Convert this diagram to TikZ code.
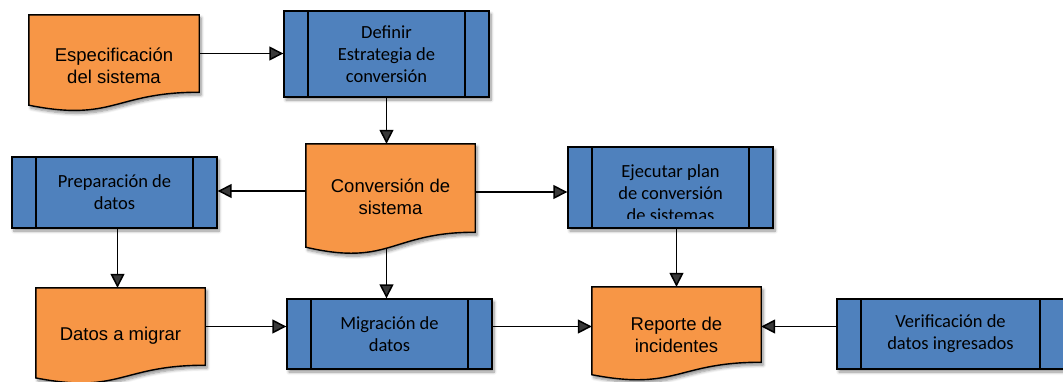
\documentclass[tikz,border=0pt]{standalone}
\usepackage{fontspec}
\setmainfont{Liberation Sans}
\newfontfamily\carlito{Carlito}
\usetikzlibrary{arrows.meta,calc,shadows.blur,backgrounds}

\definecolor{docorange}{HTML}{F79646}
\definecolor{procblue}{HTML}{4F81BD}

\tikzset{
  softshadow/.style={blur shadow={shadow xshift=2pt, shadow yshift=-3pt,
      shadow blur steps=6, shadow blur radius=3pt, shadow opacity=45}},
  procbox/.style={rectangle, draw=black, line width=1.4pt, fill=procblue,
    minimum width=205pt, inner sep=0pt, softshadow, align=center,
    font=\carlito\fontsize{18.5}{22}\selectfont,
    path picture={\draw[line width=1.4pt]
      ([xshift=24pt]path picture bounding box.north west) --
      ([xshift=24pt]path picture bounding box.south west)
      ([xshift=-24pt]path picture bounding box.north east) --
      ([xshift=-24pt]path picture bounding box.south east);}},
  docarea/.style={rectangle, draw=none, inner sep=0pt, minimum width=169pt},
  doctext/.style={align=center, font=\fontsize{18.5}{22}\selectfont},
  proctext/.style={align=center, font=\carlito\fontsize{18.5}{22}\selectfont},
  arr/.style={line width=1.5pt, -{Triangle[length=14pt,width=14pt]}},
}

% document symbol: flat top, wavy bottom hanging below the node area
\newcommand\docoutline[3]{%
  \filldraw[draw=black, line width=1.4pt, fill=docorange, softshadow]
    (#1.north west) -- (#1.north east) -- (#1.south east)
    .. controls (#1.south) and ([yshift=-#3pt]#1.south) ..
    ([yshift=-#2pt]#1.south west) -- cycle;}

\begin{document}
\begin{tikzpicture}[x=1pt, y=-1pt]
\useasboundingbox (0,0) rectangle (1063,381);

% process boxes
\node[procbox, minimum height=86pt] (def) at (386.5,54) {Definir\\Estrategia de\\conversión};
\node[procbox, minimum height=71pt] (prep) at (114.5,192.5) {Preparación de\\datos};
\node[procbox, minimum height=81pt] (ejec) at (670.5,187.5) {};
\node[procbox, minimum height=70pt] (mig) at (389.5,334) {Migración de\\datos};
\node[procbox, minimum height=70pt, minimum width=227pt] (ver) at (950.5,334) {Verificación de\\datos ingresados};

% text of the execution step, cut off at the lower edge
\begin{scope}
  \clip ([xshift=24pt]ejec.north west) rectangle ([xshift=-24pt,yshift=10pt]ejec.south east);
  \node[proctext] (ejectxt) at ([yshift=-6pt]ejec.center) {Ejecutar plan\\de conversión\\de sistemas};
\end{scope}

% document symbols
\node[docarea, minimum width=170pt, minimum height=77pt] (esp) at (114,53.5) {};
\node[docarea, minimum height=88pt] (cnv) at (390.5,188) {};
\node[docarea, minimum height=77pt] (dat) at (120.5,326.5) {};
\node[docarea, minimum height=75pt] (rep) at (676.5,324.5) {};

\docoutline{esp}{13}{30}
\docoutline{cnv}{15}{34.6}
\docoutline{dat}{12.7}{29.3}
\docoutline{rep}{12.5}{28.9}

\node[doctext] (esptxt) at ([yshift=-12pt]esp.center) {Especificación\\del sistema};
\node[doctext] (cnvtxt) at ([yshift=-9pt]cnv.center) {Conversión de\\sistema};
\node[doctext] (dattxt) at ([yshift=-9.5pt]dat.center) {Datos a migrar};
\node[doctext] (reptxt) at ([yshift=-10pt]rep.center) {Reporte de\\incidentes};

% connectors
\begin{scope}[on background layer]
  \draw[arr] (esp.east) -- (esp.east -| def.west);
  \draw[arr] (def.south) -- (def.south |- cnv.north);
  \draw[arr] ([yshift=-3pt]cnv.west) -- ([yshift=-3pt]cnv.west -| prep.east);
  \draw[arr] ([yshift=-4pt]cnv.east) -- ([yshift=-4pt]cnv.east -| ejec.west);
  \draw[arr] ([xshift=3pt]prep.south) -- ([xshift=3pt]prep.south |- dat.north);
  \draw[arr] ([xshift=-4pt]cnv.center) -- ([xshift=-4pt]cnv.center |- mig.north);
  \draw[arr] (dat.east) -- (dat.east -| mig.west);
  \draw[arr] ([yshift=-2pt]rep.west -| mig.east) -- ([yshift=-2pt]rep.west);
  \draw[arr] (rep.north |- ejec.south) -- (rep.north);
  \draw[arr] ([yshift=-2pt]rep.east -| ver.west) -- ([yshift=-2pt]rep.east);
\end{scope}
\end{tikzpicture}
\end{document}
